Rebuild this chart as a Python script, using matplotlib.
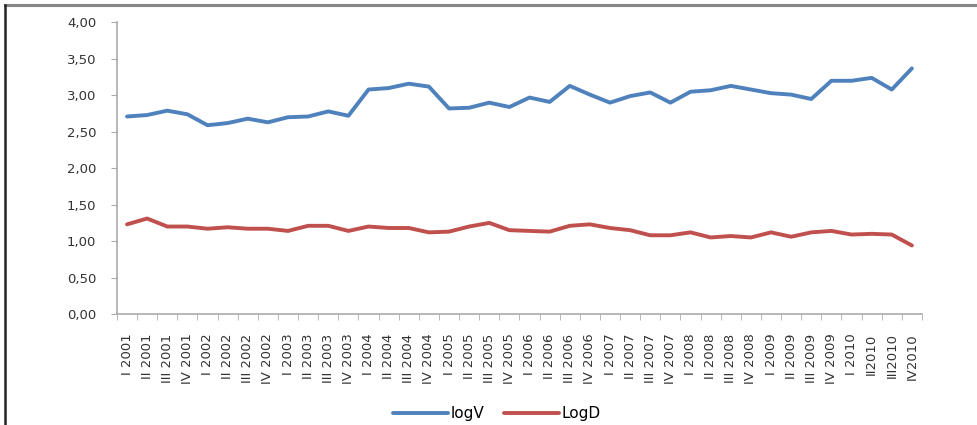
import matplotlib.pyplot as plt
from matplotlib.lines import Line2D
from matplotlib.ticker import FixedLocator, FuncFormatter

# Квартальные метки
quarters = [
    "I 2001", "II 2001", "III 2001", "IV 2001",
    "I 2002", "II 2002", "III 2002", "IV 2002",
    "I 2003", "II 2003", "III 2003", "IV 2003",
    "I 2004", "II 2004", "III 2004", "IV 2004",
    "I 2005", "II 2005", "III 2005", "IV 2005",
    "I 2006", "II 2006", "III 2006", "IV 2006",
    "I 2007", "II 2007", "III 2007", "IV 2007",
    "I 2008", "II 2008", "III 2008", "IV 2008",
    "I 2009", "II 2009", "III 2009", "IV 2009",
    "I 2010", "II2010", "III2010", "IV2010",
]

log_v = [
    2.71, 2.73, 2.79, 2.74, 2.59, 2.62, 2.68, 2.63, 2.70, 2.71,
    2.78, 2.72, 3.08, 3.10, 3.16, 3.12, 2.82, 2.83, 2.90, 2.84,
    2.97, 2.91, 3.13, 3.01, 2.90, 2.99, 3.04, 2.90, 3.05, 3.07,
    3.13, 3.08, 3.03, 3.01, 2.95, 3.20, 3.20, 3.24, 3.08, 3.37,
]

log_d = [
    1.23, 1.31, 1.20, 1.20, 1.17, 1.19, 1.17, 1.17, 1.14, 1.21,
    1.21, 1.14, 1.20, 1.18, 1.18, 1.12, 1.13, 1.20, 1.25, 1.15,
    1.14, 1.13, 1.21, 1.23, 1.18, 1.15, 1.08, 1.08, 1.12, 1.05,
    1.07, 1.05, 1.12, 1.06, 1.12, 1.14, 1.09, 1.10, 1.09, 0.94,
]

y_ticks = [0, 0.5, 1.0, 1.5, 2.0, 2.5, 3.0, 3.5, 4.0]

plt.rcParams["font.family"] = ["DejaVu Sans"]

axis_color = "#ABABAB"
text_color = "#333333"

fig = plt.figure(figsize=(9.78, 4.25), dpi=100)
ax = fig.add_axes([0.1196, 0.2612, 0.8231, 0.6859])

x = list(range(len(quarters)))
ax.plot(x, log_v, color="#4F81BD", linewidth=2.8, label="logV", solid_capstyle="round")
ax.plot(x, log_d, color="#C0504D", linewidth=2.8, label="LogD", solid_capstyle="round")

ax.set_xlim(-0.5, len(quarters) - 0.5)
ax.set_ylim(0, 4)

# Подписи по центрам категорий, засечки на границах
ax.set_xticks(x)
ax.set_xticklabels(quarters, rotation=90, fontsize=9.5, color=text_color)
ax.xaxis.set_minor_locator(FixedLocator([i - 0.5 for i in range(len(quarters) + 1)]))
ax.tick_params(axis="x", which="major", length=0, pad=14)
ax.tick_params(axis="x", which="minor", length=4, color=axis_color, direction="out")

ax.set_yticks(y_ticks)
ax.yaxis.set_major_formatter(FuncFormatter(lambda v, p: f"{v:.2f}".replace(".", ",")))
ax.tick_params(axis="y", length=4, color=axis_color, pad=11, labelsize=9.5, labelcolor=text_color)

for side in ["top", "right"]:
    ax.spines[side].set_visible(False)
for side in ["left", "bottom"]:
    ax.spines[side].set_color(axis_color)
    ax.spines[side].set_linewidth(1.2)

fig.legend(loc="center", bbox_to_anchor=(0.508, 0.026), ncol=2, frameon=False,
           fontsize=11, handlelength=3.6, handletextpad=0.15, columnspacing=1.3,
           borderpad=0.1)

# Рамка области диаграммы
fig.add_artist(Line2D([0.005, 1.0], [0.988, 0.988], color="#878787", linewidth=2.2,
                      transform=fig.transFigure))
fig.add_artist(Line2D([0.0055, 0.0055], [0.0, 0.988], color="#222222", linewidth=1.8,
                      transform=fig.transFigure))

fig.savefig("out.png", dpi=100)
